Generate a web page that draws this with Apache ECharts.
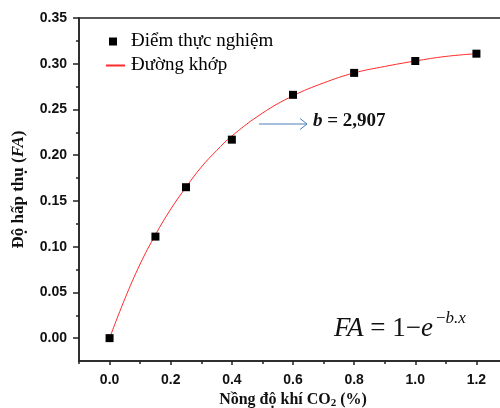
<!DOCTYPE html>
<html>
<head>
    <meta charset="UTF-8">
    <title>FA theo nồng độ CO2</title>
    <script src="https://cdn.jsdelivr.net/npm/echarts@6/dist/echarts.min.js"></script>
</head>
<body style="margin:0;background:#fff">
    <div id="main" style="width:500px;height:408px;"></div>

    <script type="text/javascript">
        // số liệu
        var xPoints = [0, 0.15, 0.25, 0.4, 0.6, 0.8, 1.0, 1.2];
        var yPoints = [0, 0.111, 0.165, 0.217, 0.266, 0.290, 0.303, 0.311];

        // đường khớp (đọc theo đường đỏ)
        var xCurve = [0, 0.05, 0.1, 0.15, 0.2, 0.25, 0.3, 0.35, 0.4, 0.5, 0.6, 0.7, 0.8, 0.9, 1.0, 1.1, 1.2];
        var yCurve = [0, 0.043, 0.081, 0.113, 0.141, 0.165, 0.187, 0.205, 0.221, 0.246, 0.265, 0.279, 0.290, 0.297, 0.303, 0.308, 0.311];

        var xTickLabels = ['0.0', '0.2', '0.4', '0.6', '0.8', '1.0', '1.2'];
        var xMinorTicks = [-0.1, 0.1, 0.3, 0.5, 0.7, 0.9, 1.1];
        var yTickLabels = ['0.00', '0.05', '0.10', '0.15', '0.20', '0.25', '0.30', '0.35'];
        var yMinorTicks = [0.025, 0.075, 0.125, 0.175, 0.225, 0.275, 0.325];

        var serif = 'Liberation Serif';
        var sans = 'Liberation Sans';

        var xMajor = xTickLabels.map(parseFloat);
        var yMajor = yTickLabels.map(parseFloat);

        var myChart = echarts.init(document.getElementById('main'));

        var xBase = { type: 'value', min: -0.1, max: 1.3, gridIndex: 0 };
        var yBase = { type: 'value', min: -0.025, max: 0.35, gridIndex: 0 };

        myChart.setOption({
            backgroundColor: '#fff',
            animation: false,
            textStyle: { fontFamily: serif },
            grid: {
                left: 79, top: 18, right: -7, bottom: 47,
                show: true, borderColor: '#222', borderWidth: 1.5,
                outerBoundsMode: 'none'
            },
            legend: [{
                data: ['Điểm thực nghiệm'],
                left: 104, top: 27,
                itemWidth: 8, itemHeight: 8,
                icon: 'rect',
                selectedMode: false,
                textStyle: { fontFamily: serif, fontSize: 19, color: '#000', padding: [0, 0, 0, 9] }
            }, {
                data: ['Đường khớp'],
                left: 101, top: 51,
                itemWidth: 19, itemHeight: 2,
                icon: 'rect',
                selectedMode: false,
                textStyle: { fontFamily: serif, fontSize: 19, color: '#000', padding: [0, 0, 0, 1] }
            }],
            xAxis: [
                Object.assign({}, xBase, {
                    position: 'bottom',
                    name: '{t|Nồng độ khí CO}{s|2}{t| (%)}',
                    nameLocation: 'middle',
                    nameGap: 29,
                    nameTextStyle: {
                        rich: {
                            t: { fontFamily: serif, fontWeight: 'bold', fontSize: 16, color: '#111' },
                            s: { fontFamily: serif, fontWeight: 'bold', fontSize: 11, color: '#111', padding: [7, 0, 0, 0] }
                        }
                    },
                    axisLine: { show: true, onZero: false, lineStyle: { color: '#222', width: 1.5 } },
                    axisTick: { show: true, length: 4, lineStyle: { color: '#222', width: 1.5 }, customValues: xMajor },
                    axisLabel: {
                        customValues: xMajor,
                        margin: 12,
                        fontFamily: sans, fontWeight: 'bold', fontSize: 14, color: '#111',
                        formatter: function (v) { return v.toFixed(1); }
                    },
                    splitLine: { show: false }
                }),
                Object.assign({}, xBase, {
                    position: 'bottom',
                    axisLine: { show: false, onZero: false },
                    axisTick: { show: true, length: 3, lineStyle: { color: '#222', width: 1.5 }, customValues: xMinorTicks },
                    axisLabel: { show: false },
                    splitLine: { show: false }
                })
            ],
            yAxis: [
                Object.assign({}, yBase, {
                    position: 'left',
                    name: '{t|Độ hấp thụ (}{i|FA}{t|)}',
                    nameLocation: 'middle',
                    nameGap: 52,
                    nameTextStyle: {
                        rich: {
                            t: { fontFamily: serif, fontWeight: 'bold', fontSize: 17, color: '#111' },
                            i: { fontFamily: serif, fontWeight: 'bold', fontStyle: 'italic', fontSize: 17, color: '#111' }
                        }
                    },
                    axisLine: { show: true, onZero: false, lineStyle: { color: '#222', width: 1.5 } },
                    axisTick: { show: true, length: 6, lineStyle: { color: '#222', width: 1.5 }, customValues: yMajor },
                    axisLabel: {
                        customValues: yMajor,
                        margin: 12,
                        fontFamily: sans, fontWeight: 'bold', fontSize: 14, color: '#111',
                        formatter: function (v) { return v.toFixed(2); }
                    },
                    splitLine: { show: false }
                }),
                Object.assign({}, yBase, {
                    position: 'left',
                    axisLine: { show: false, onZero: false },
                    axisTick: { show: true, length: 3, lineStyle: { color: '#222', width: 1.5 }, customValues: yMinorTicks },
                    axisLabel: { show: false },
                    splitLine: { show: false }
                })
            ],
            series: [{
                name: 'Đường khớp',
                type: 'line',
                data: xCurve.map(function (x, i) { return [x, yCurve[i]]; }),
                smooth: 0.4,
                symbol: 'none',
                lineStyle: { color: '#ff2a2a', width: 1 },
                itemStyle: { color: '#ff2a2a' },
                z: 2
            }, {
                name: 'Điểm thực nghiệm',
                type: 'scatter',
                data: xPoints.map(function (x, i) { return [x, yPoints[i]]; }),
                symbol: 'rect',
                symbolSize: 8,
                itemStyle: { color: '#000', opacity: 1 },
                z: 3
            }],
            graphic: [
                // mũi tên xanh
                { type: 'line', shape: { x1: 259, y1: 124, x2: 307, y2: 124 }, style: { stroke: '#4a7ebb', lineWidth: 1 } },
                { type: 'polyline', shape: { points: [[300, 118.5], [307, 124], [300, 129.5]] }, style: { stroke: '#4a7ebb', lineWidth: 1, fill: null } },
                {
                    type: 'text', left: 313, top: 112,
                    style: {
                        text: '{i|b}{t| = 2,907}',
                        rich: {
                            i: { fontFamily: serif, fontWeight: 'bold', fontStyle: 'italic', fontSize: 19, fill: '#111' },
                            t: { fontFamily: serif, fontWeight: 'bold', fontSize: 19, fill: '#111' }
                        }
                    }
                },
                // công thức
                {
                    type: 'text', left: 334, top: 315,
                    style: {
                        text: '{i|FA}{t| = 1−}{i|e}',
                        rich: {
                            i: { fontFamily: serif, fontStyle: 'italic', fontSize: 27, fill: '#111' },
                            t: { fontFamily: serif, fontSize: 27, fill: '#111' }
                        }
                    }
                },
                {
                    type: 'text', left: 436, top: 310,
                    style: {
                        text: '{t|−}{i|b.x}',
                        rich: {
                            i: { fontFamily: serif, fontStyle: 'italic', fontSize: 17, fill: '#111' },
                            t: { fontFamily: serif, fontSize: 17, fill: '#111' }
                        }
                    }
                }
            ]
        });
    </script>
</body>
</html>
